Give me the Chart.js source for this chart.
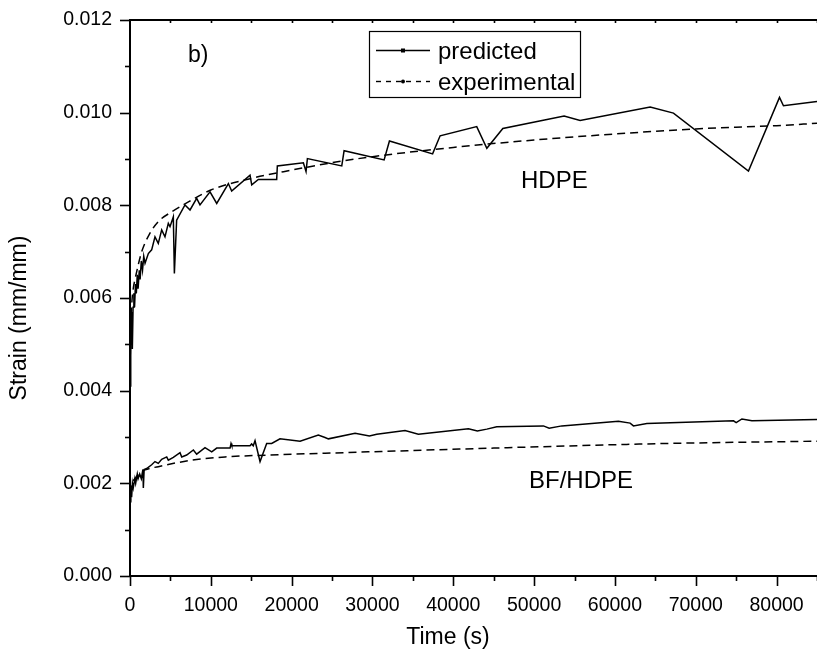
<!DOCTYPE html>
<html>
<head>
<meta charset="utf-8">
<script src="https://cdn.jsdelivr.net/npm/chart.js@4/dist/chart.umd.min.js"></script>
<style>
  html, body { margin: 0; padding: 0; background: #fff; }
  #wrap { width: 817px; height: 662px; }
</style>
</head>
<body>
<div id="wrap"><canvas id="c" width="817" height="662"></canvas></div>
<script>
// Creep strain vs time, HDPE and BF/HDPE composite: model prediction vs experiment

const hdpePredTime = [0, 60, 120, 200, 290, 380, 480, 560, 680, 780, 900, 1000, 1150, 1250, 1400, 1550, 1700, 1860,
  2270, 2680, 3090, 3500, 3920, 4330, 4740, 4950, 5360, 5490, 5770, 6800, 7430, 8250, 8660, 9900, 10730,
  12170, 12580, 14850, 15060, 15880, 18150, 18230, 21450, 21780, 21950, 26200, 26490, 31440, 32100,
  37440, 38370, 42900, 44150, 46130, 53710, 55690, 64360, 67240, 76520, 80360, 80850, 85000];
const hdpePred = [0.0041, 0.0050, 0.0053, 0.0057, 0.0049, 0.0058, 0.0061, 0.0058, 0.0063, 0.0061, 0.0065, 0.0062, 0.0066, 0.0064, 0.0068, 0.0066, 0.0069, 0.00675,
  0.00696, 0.00704, 0.00732, 0.00718, 0.00747, 0.00732, 0.00761, 0.00754, 0.00775, 0.00653, 0.00768, 0.00801, 0.00790, 0.00815, 0.00801, 0.00829, 0.00804,
  0.00847, 0.00831, 0.00865, 0.00844, 0.00856, 0.00856, 0.00885, 0.00892, 0.00873, 0.00901, 0.00885, 0.00918, 0.00898, 0.00939,
  0.00911, 0.00950, 0.00970, 0.00923, 0.00966, 0.00993, 0.00983, 0.01012, 0.00999, 0.00874, 0.01033, 0.01015, 0.01024];

const hdpeExpTime = [0, 100, 200, 400, 620, 1000, 1450, 2475, 3500, 5160, 7500, 10000, 15000, 20000, 25000, 30000, 40000, 50000, 60000, 70000, 80000, 85000];
const hdpeExp = [0.0045, 0.0052, 0.0058, 0.0062, 0.0064, 0.0067, 0.0070, 0.0074, 0.00765, 0.00786, 0.0081, 0.00833, 0.00858, 0.00876, 0.00892, 0.00905, 0.00925, 0.00941, 0.00954, 0.00965, 0.00972, 0.00977];

const bfPredTime = [0, 100, 200, 300, 400, 600, 700, 900, 1000, 1200, 1400, 1600, 1650, 1750, 2060, 2680, 3090, 3500, 3920, 4540, 4740, 5360,
  6190, 6400, 7010, 7840, 8250, 9280, 10110, 10730, 12380, 12500, 12600, 14850, 15050, 15250, 15470, 16090, 16910, 17530, 18560,
  21040, 23300, 24130, 24550, 27850, 29620, 30530, 34030, 35680, 41870, 42980, 44150, 45380, 51150, 51860, 53430,
  60430, 61880, 62290, 63950, 74670, 75000, 75710, 76950, 85000];
const bfPred = [0.0016, 0.0019, 0.0017, 0.0020, 0.0019, 0.0021, 0.0020, 0.0022, 0.0021, 0.0022, 0.0021, 0.0023, 0.0019, 0.0023, 0.00232, 0.00240, 0.00247, 0.00243, 0.00252, 0.00257, 0.00250, 0.00256,
  0.00266, 0.00257, 0.00261, 0.00272, 0.00263, 0.00277, 0.00268, 0.00276, 0.00276, 0.00286, 0.00281, 0.00281, 0.00285, 0.00281, 0.00292, 0.00247, 0.00286, 0.00286, 0.00296,
  0.00291, 0.00304, 0.00299, 0.00296, 0.00308, 0.00302, 0.00306, 0.00314, 0.00306, 0.00318, 0.00313, 0.00317, 0.00322, 0.00324, 0.00319, 0.00324,
  0.00334, 0.00330, 0.00324, 0.00329, 0.00335, 0.00331, 0.00339, 0.00335, 0.00338];

const bfExpTime = [0, 100, 300, 700, 1200, 1860, 3500, 7630, 11760, 17000, 24130, 33420, 50740, 66420, 85000];
const bfExp = [0.0015, 0.0018, 0.0020, 0.00212, 0.00222, 0.00229, 0.00236, 0.00250, 0.00257, 0.00261, 0.00265, 0.00270, 0.00279, 0.00286, 0.00291];

const xTickValues = [0, 10000, 20000, 30000, 40000, 50000, 60000, 70000, 80000];
const yTickValues = [0, 0.002, 0.004, 0.006, 0.008, 0.010, 0.012];
const seriesNames = ['predicted', 'experimental'];
const axisTitles = { x: 'Time (s)', y: 'Strain (mm/mm)' };
const panelTag = 'b)';
const curveLabels = ['HDPE', 'BF/HDPE'];

const pts = (xs, ys) => xs.map((x, i) => ({ x, y: ys[i] }));
const FONT = '"Liberation Sans", Arial, sans-serif';

const solid = { borderColor: '#000', borderWidth: 1.5, pointRadius: 0, fill: false, tension: 0, showLine: true };
const dashed = { borderColor: '#000', borderWidth: 1.5, pointRadius: 0, fill: false, borderDash: [8, 5], cubicInterpolationMode: 'monotone', showLine: true };

// Minor/major tick marks, top frame, legend box and text annotations
const decor = {
  id: 'decor',
  afterDraw(chart) {
    const { ctx, chartArea: a, scales } = chart;
    const xs = scales.x, ys = scales.y;
    ctx.save();
    ctx.strokeStyle = '#000';
    ctx.fillStyle = '#000';

    // top frame line
    ctx.lineWidth = 2;
    ctx.beginPath();
    ctx.moveTo(a.left - 1, a.top);
    ctx.lineTo(a.right, a.top);
    ctx.stroke();

    ctx.lineWidth = 1.6;
    const xStep = xTickValues[1] - xTickValues[0];
    // bottom ticks (outward) and top ticks (inward)
    for (let v = 0; v <= xs.max; v += xStep / 2) {
      const px = Math.round(xs.getPixelForValue(v)) + 0.5;
      const major = v % xStep === 0;
      ctx.beginPath();
      ctx.moveTo(px, a.bottom);
      ctx.lineTo(px, a.bottom + (major ? 10 : 5));
      ctx.stroke();
      if (v > 0) {
        ctx.beginPath();
        ctx.moveTo(px, a.top);
        ctx.lineTo(px, a.top + 3);
        ctx.stroke();
      }
    }
    // left ticks (outward)
    const yStep = yTickValues[1] - yTickValues[0];
    for (let k = 0; k <= 12; k++) {
      const v = k * yStep / 2;
      const py = Math.round(ys.getPixelForValue(v)) + 0.5;
      const major = k % 2 === 0;
      ctx.beginPath();
      ctx.moveTo(a.left, py);
      ctx.lineTo(a.left - (major ? 10 : 5), py);
      ctx.stroke();
    }

    // axis titles
    ctx.font = '23px ' + FONT;
    ctx.textAlign = 'center';
    ctx.textBaseline = 'alphabetic';
    ctx.fillText(axisTitles.x, 448, 644);
    ctx.save();
    ctx.translate(26, 318);
    ctx.rotate(-Math.PI / 2);
    ctx.fillText(axisTitles.y, 0, 0);
    ctx.restore();

    // annotations
    ctx.textAlign = 'left';
    ctx.font = '23px ' + FONT;
    ctx.fillText(panelTag, 188, 62);
    ctx.font = '24px ' + FONT;
    ctx.fillText(curveLabels[0], 521, 188);
    ctx.fillText(curveLabels[1], 529, 488);

    // legend
    ctx.lineWidth = 1.2;
    ctx.strokeRect(369.5, 31.5, 211, 66);
    ctx.lineWidth = 1.4;
    ctx.beginPath();
    ctx.moveTo(376, 50.5);
    ctx.lineTo(430, 50.5);
    ctx.stroke();
    ctx.fillRect(401, 48.5, 4, 4);
    ctx.setLineDash([5, 5]);
    ctx.beginPath();
    ctx.moveTo(376, 81.5);
    ctx.lineTo(430, 81.5);
    ctx.stroke();
    ctx.setLineDash([]);
    ctx.beginPath();
    ctx.arc(403, 81.5, 2, 0, Math.PI * 2);
    ctx.fill();
    ctx.font = '24px ' + FONT;
    ctx.fillText(seriesNames[0], 438, 59);
    ctx.fillText(seriesNames[1], 438, 90);
    ctx.restore();
  }
};

new Chart(document.getElementById('c'), {
  type: 'scatter',
  data: {
    datasets: [
      Object.assign({ label: seriesNames[0] + ' HDPE', data: pts(hdpePredTime, hdpePred) }, solid),
      Object.assign({ label: seriesNames[1] + ' HDPE', data: pts(hdpeExpTime, hdpeExp) }, dashed),
      Object.assign({ label: seriesNames[0] + ' BF/HDPE', data: pts(bfPredTime, bfPred) }, solid),
      Object.assign({ label: seriesNames[1] + ' BF/HDPE', data: pts(bfExpTime, bfExp) }, dashed)
    ]
  },
  options: {
    responsive: false,
    animation: false,
    layout: { padding: { top: 20, right: 0, left: 0, bottom: 0 } },
    plugins: { legend: { display: false }, tooltip: { enabled: false } },
    scales: {
      x: {
        type: 'linear',
        min: 0,
        max: 85000,
        afterBuildTicks(s) { s.ticks = xTickValues.map(v => ({ value: v })); },
        afterFit(s) { s.height = 86; s.paddingLeft = 0; s.paddingRight = 0; },
        grid: { display: true, drawOnChartArea: false, drawTicks: false },
        border: { display: true, color: '#000', width: 2 },
        ticks: {
          autoSkip: false,
          maxRotation: 0,
          minRotation: 0,
          padding: 18,
          color: '#000',
          font: { family: FONT, size: 19.5 },
          callback: v => String(v)
        }
      },
      y: {
        type: 'linear',
        min: 0,
        max: 0.012,
        afterBuildTicks(s) { s.ticks = yTickValues.map(v => ({ value: v })); },
        afterFit(s) { s.width = 130; s.paddingTop = 0; s.paddingBottom = 0; },
        grid: { display: true, drawOnChartArea: false, drawTicks: false },
        border: { display: true, color: '#000', width: 2 },
        ticks: {
          autoSkip: false,
          padding: 18,
          color: '#000',
          font: { family: FONT, size: 19.5 },
          callback: v => v.toFixed(3)
        }
      }
    }
  },
  plugins: [decor]
});
</script>
</body>
</html>
